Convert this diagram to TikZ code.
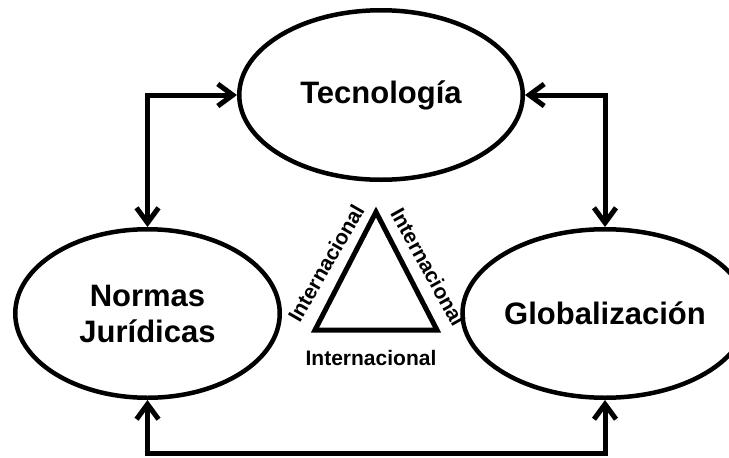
\documentclass[tikz,border=0pt]{standalone}
\usepackage{fontspec}
\setmainfont{Liberation Sans}
\usetikzlibrary{shapes.geometric}
\usetikzlibrary{arrows.meta}

\begin{document}
\begin{tikzpicture}[x=1pt, y=-1pt,
		bubble/.style={draw, ellipse, line width=4.5pt, inner sep=0pt, align=center, font=\bfseries\fontsize{31}{36}\selectfont},
		barb/.tip={Straight Barb[length=15pt, width=22pt]},
		link/.style={line width=5pt, barb-barb, preaction={draw=black!15, transform canvas={shift={(2pt,-2pt)}}}},
		tag/.style={inner sep=0pt, font=\bfseries\fontsize{21}{24}\selectfont}]
			\clip (0,0) rectangle (729,458);

			\node[bubble, minimum width=283.5pt, minimum height=169.5pt] (tec) at (381,95) {Tecnología};
			\node[bubble, minimum width=264.5pt, minimum height=168.5pt] (norm) at (147.5,313.5) {Normas\\Jurídicas};
			\node[bubble, minimum width=259.5pt, minimum height=168.5pt] (glob) at (605,313.5) {Globalización};

			\draw[link] (tec.west) -| (norm.north);
			\draw[link] (tec.east) -| (glob.north);
			\coordinate (base) at (0,453);
			\draw[link] (norm.south) -- (norm.south |- base) -- (glob.south |- base) -- (glob.south);

			\coordinate (top) at (376,212);
			\coordinate (left) at (315,330);
			\coordinate (right) at (437,330);
			\draw[line width=5pt] (top) -- (left) -- (right) -- cycle;

			\node[tag, rotate=60] (tagl) at (326,263) {Internacional};
			\node[tag, rotate=-61] (tagr) at (428,267) {Internacional};
			\node[tag] (tagb) at (371,358) {Internacional};
		\end{tikzpicture}
\end{document}
